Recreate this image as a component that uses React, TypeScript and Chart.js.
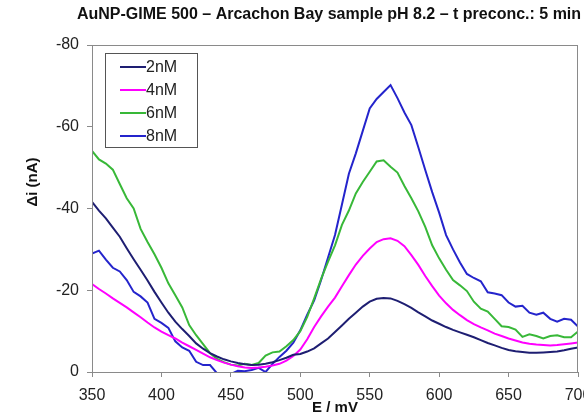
import React, { useEffect, useRef } from "react";
import { Chart, registerables } from "chart.js";

Chart.register(...registerables);

const potentials = [
  350, 355, 360, 365, 370, 375, 380, 385, 390, 395, 400, 405, 410, 415, 420, 425, 430, 435, 440, 445,
  450, 455, 460, 465, 470, 475, 480, 485, 490, 495, 500, 505, 510, 515, 520, 525, 530, 535, 540, 545,
  550, 555, 560, 565, 570, 575, 580, 585, 590, 595, 600, 605, 610, 615, 620, 625, 630, 635, 640, 645,
  650, 655, 660, 665, 670, 675, 680, 685, 690, 695, 700,
];

const series2nM = [
  -41.6, -39.5, -37.6, -35.3, -33.1, -30.3, -27.6, -25.0, -22.4, -19.6, -17.0, -14.5, -12.3, -10.5, -8.8, -7.0, -5.7, -4.6, -3.8, -3.1,
  -2.6, -2.2, -1.9, -1.7, -1.8, -2.0, -2.4, -2.9, -3.5, -4.2, -4.4, -5.0, -5.8, -7.0, -8.2, -9.8, -11.4, -13.0, -14.5, -16.0,
  -17.2, -17.9, -18.1, -18.0, -17.4, -16.6, -15.7, -14.6, -13.6, -12.6, -11.8, -11.0, -10.3, -9.7, -9.1, -8.5, -7.8, -7.1, -6.5, -5.9,
  -5.4, -5.1, -4.9, -4.7, -4.7, -4.8, -4.9, -5.0, -5.3, -5.7, -6.0,
];

const series4nM = [
  -21.5, -20.3, -19.2, -18.0, -16.9, -15.8, -14.6, -13.4, -12.1, -10.9, -9.9, -9.0, -8.2, -7.2, -6.3, -5.4, -4.5, -3.6, -2.9, -2.3,
  -1.8, -1.4, -1.1, -1.0, -1.1, -1.3, -1.6, -2.0, -2.8, -3.9, -5.5, -8.0, -11.0, -13.6, -16.0, -18.2, -21.0, -23.7, -26.3, -28.4,
  -30.2, -31.8, -32.5, -32.7, -32.1, -30.8, -28.6, -26.2, -23.5, -21.0, -18.7, -16.8, -15.2, -13.9, -12.7, -11.7, -10.9, -10.2, -9.4, -8.8,
  -8.2, -7.7, -7.2, -6.9, -6.7, -6.6, -6.5, -6.6, -6.8, -7.0, -7.2,
];

const series6nM = [
  -54.1, -52.0, -51.0, -49.5, -46.0, -42.5, -40.0, -35.0, -31.8, -28.8, -25.5, -21.7, -18.8, -15.8, -11.5, -9.0, -6.8, -4.6, -3.2, -2.4,
  -1.8, -1.6, -2.0, -1.7, -2.2, -4.0, -4.8, -5.0, -6.3, -7.8, -10.0, -13.5, -18.0, -22.8, -27.0, -31.0, -36.0, -39.5, -43.7, -46.5,
  -49.0, -51.5, -51.8, -50.2, -48.8, -45.5, -42.5, -39.3, -35.5, -31.0, -27.8, -25.0, -22.5, -21.2, -19.8, -17.2, -15.5, -14.8, -13.0, -11.2,
  -11.0, -10.4, -8.6, -9.2, -8.8, -8.2, -8.8, -9.0, -8.5, -8.5, -9.9,
];

const series8nM = [
  -29.0, -29.7, -27.5, -25.5, -24.6, -22.5, -19.6, -18.5, -17.0, -13.0, -12.0, -10.8, -7.5, -6.0, -5.2, -2.5, -1.7, -1.7, 0.3, 1.0,
  0.5, -0.3, -0.2, -0.5, -1.0, 0.0, -2.0, -3.7, -5.2, -7.2, -10.2, -14.0, -17.5, -22.5, -28.0, -33.5, -41.0, -48.5, -53.5, -59.0,
  -64.5, -66.8, -68.5, -70.2, -67.0, -63.5, -60.4, -55.0, -49.4, -44.0, -39.0, -33.5, -30.0, -26.8, -24.0, -23.0, -22.2, -19.5, -19.2, -18.8,
  -17.0, -16.0, -16.2, -14.5, -14.0, -14.5, -13.0, -12.3, -13.0, -12.8, -11.1,
];

const seriesLabels = ["2nM", "4nM", "6nM", "8nM"];
const seriesColors = ["#1e1e72", "#ff00ff", "#38b838", "#2424cc"];
const seriesValues = [series2nM, series4nM, series6nM, series8nM];

const titleText = "AuNP-GIME 500 – Arcachon Bay sample pH 8.2 – t preconc.: 5 min";
const xTitle = "E / mV";
const yTitle = "Δi (nA)";

const FONT = "'Liberation Sans', Arial, sans-serif";

const framePlugin = {
  id: "frameAndLegend",
  afterDraw(chart: any) {
    const { ctx, chartArea } = chart;
    ctx.save();
    // plot frame
    ctx.strokeStyle = "#8a8a8a";
    ctx.lineWidth = 1;
    ctx.strokeRect(chartArea.left + 0.5, chartArea.top + 0.5, chartArea.right - chartArea.left - 1, chartArea.bottom - chartArea.top);
    // title
    ctx.fillStyle = "#111";
    ctx.font = `bold 16px ${FONT}`;
    ctx.textAlign = "center";
    ctx.textBaseline = "middle";
    ctx.fillText(titleText, 329, 15);
    // x-axis title
    ctx.font = `bold 15px ${FONT}`;
    ctx.fillText(xTitle, 335, 408);
    // y-axis title
    ctx.save();
    ctx.translate(33, 182);
    ctx.rotate(-Math.PI / 2);
    ctx.font = `bold 15px ${FONT}`;
    ctx.fillText(yTitle, 0, 0);
    ctx.restore();
    // legend box
    const bx = 105, by = 53, bw = 92, bh = 94;
    ctx.fillStyle = "#fff";
    ctx.fillRect(bx, by, bw, bh);
    ctx.strokeStyle = "#555";
    ctx.lineWidth = 1;
    ctx.strokeRect(bx + 0.5, by + 0.5, bw, bh);
    ctx.font = `16px ${FONT}`;
    ctx.textAlign = "left";
    chart.data.datasets.forEach((ds: any, i: number) => {
      const y = 67 + i * 23;
      ctx.strokeStyle = ds.borderColor;
      ctx.lineWidth = 2;
      ctx.beginPath();
      ctx.moveTo(120, y);
      ctx.lineTo(146, y);
      ctx.stroke();
      ctx.fillStyle = "#222";
      ctx.fillText(ds.label, 146, y + 1);
    });
    ctx.restore();
  },
};

export default function App() {
  const canvasRef = useRef<HTMLCanvasElement | null>(null);

  useEffect(() => {
    if (!canvasRef.current) return;
    const chart = new Chart(canvasRef.current, {
      type: "line",
      data: {
        datasets: seriesLabels.map((label, i) => ({
          label,
          data: potentials.map((x, j) => ({ x, y: seriesValues[i][j] })),
          borderColor: seriesColors[i],
          backgroundColor: seriesColors[i],
          borderWidth: 2,
          pointRadius: 0,
          tension: 0,
          fill: false,
        })),
      },
      options: {
        responsive: false,
        animation: false,
        devicePixelRatio: 1,
        layout: { padding: { left: 20, top: 45, right: 6, bottom: 0 } },
        plugins: {
          legend: { display: false },
          title: { display: false },
          tooltip: { enabled: false },
        },
        scales: {
          x: {
            type: "linear",
            min: 350,
            max: 700,
            afterFit(scale: any) {
              scale.height = 45;
              scale.paddingLeft = 0;
              scale.paddingRight = 0;
            },
            ticks: {
              stepSize: 50,
              color: "#222",
              font: { family: FONT, size: 16 },
              padding: 9,
              maxRotation: 0,
              autoSkip: false,
            },
            grid: { drawOnChartArea: false, drawTicks: true, tickLength: 5, color: "#8a8a8a" },
            border: { display: true, color: "#8a8a8a" },
            title: { display: false },
          },
          y: {
            type: "linear",
            min: -80,
            max: 0,
            reverse: true,
            afterFit(scale: any) {
              scale.width = 72;
              scale.paddingTop = 0;
              scale.paddingBottom = 0;
            },
            ticks: {
              stepSize: 20,
              color: "#222",
              font: { family: FONT, size: 16 },
              padding: 8,
            },
            grid: { drawOnChartArea: false, drawTicks: true, tickLength: 5, color: "#8a8a8a" },
            border: { display: true, color: "#8a8a8a" },
            title: { display: false },
          },
        },
      },
      plugins: [framePlugin],
    });
    return () => chart.destroy();
  }, []);

  return (
    <div style={{ position: "absolute", left: 0, top: 0, width: 584, height: 417, background: "#fff" }}>
      <canvas ref={canvasRef} width={584} height={417} style={{ display: "block" }} />
    </div>
  );
}
